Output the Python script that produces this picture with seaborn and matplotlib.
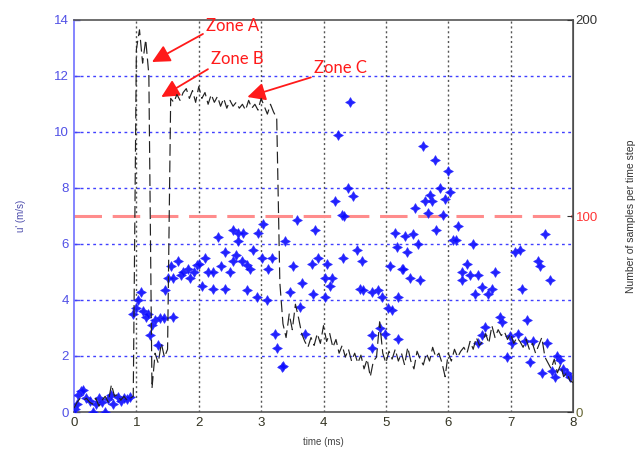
import numpy as np
import matplotlib
matplotlib.use("Agg")
import matplotlib.pyplot as plt
import seaborn as sns

# ---- data ----
# blue markers: u' (m/s) vs time (ms)
pt_time = [0.02,0.05,0.07,0.12,0.15,0.2,0.25,0.3,0.35,0.4,0.45,0.5,0.55,0.6,0.63,0.7,0.75,0.8,0.85,0.9,
           0.95,1.0,1.03,1.07,1.1,1.15,1.19,1.22,1.25,1.3,1.35,1.38,1.45,1.59,1.46,1.51,1.55,1.59,1.67,1.72,
           1.75,1.83,1.86,1.92,1.97,2.0,2.05,2.1,2.15,
           2.23,2.23,2.31,2.35,2.42,2.42,2.5,2.55,2.55,2.6,2.63,2.63,2.69,2.71,2.77,2.77,2.82,2.87,2.93,2.95,
           3.01,3.03,3.09,3.11,3.17,
           3.22,3.25,3.33,3.35,3.38,3.46,3.51,3.57,3.62,3.65,3.70,3.81,3.83,3.86,3.91,4.02,4.02,4.05,4.1,4.13,
           4.18,4.23,4.3,4.31,4.33,4.39,4.42,4.47,4.54,4.58,4.62,4.63,4.78,4.78,4.87,4.94,4.98,5.03,4.9,4.78,
           5.06,5.1,5.18,5.19,5.26,5.27,5.3,5.34,5.38,5.43,5.47,5.51,5.54,5.59,5.63,5.68,5.71,5.74,5.79,5.81,
           5.87,5.92,5.95,6.0,6.03,5.2,5.15,
           6.08,6.12,6.15,6.22,6.22,6.3,6.35,6.39,6.43,6.47,6.47,6.54,6.54,6.59,6.63,6.7,6.75,6.83,6.86,6.94,
           6.99,7.02,
           7.07,7.12,7.15,7.18,7.23,7.26,7.31,7.36,7.44,7.47,7.5,7.55,7.58,7.63,7.66,7.71,7.79,7.84,7.9,7.95,7.75]
pt_u = [0.1,0.3,0.6,0.75,0.8,0.5,0.4,0.0,0.3,0.5,0.35,0.0,0.45,0.6,0.3,0.55,0.4,0.5,0.45,0.55,
        3.5,3.7,4.0,4.3,3.6,3.4,3.5,2.75,3.1,3.3,2.4,3.35,3.35,3.4,4.35,4.8,5.2,4.8,5.4,4.9,
        5.0,5.1,4.8,5.0,5.25,5.3,4.5,5.5,5.0,
        4.4,5.0,6.25,5.2,4.4,5.7,5.0,6.5,5.4,5.6,6.4,6.1,5.4,6.4,5.25,4.35,5.1,5.8,4.1,6.4,
        5.5,6.7,4.0,5.1,5.5,
        2.8,2.3,1.6,1.65,6.1,4.3,5.2,6.85,3.75,4.6,2.8,5.3,4.2,6.5,5.5,4.8,4.1,5.3,4.5,4.8,
        7.55,9.9,7.05,5.5,7.0,8.0,11.07,7.7,5.8,4.4,5.4,4.35,2.75,2.3,4.35,4.1,2.8,3.7,3.0,4.3,
        5.2,3.65,5.9,2.6,5.1,5.1,6.3,5.7,4.8,6.35,7.3,6.0,4.7,9.5,7.55,7.1,7.75,7.55,9.0,6.5,
        8.0,7.05,7.6,8.6,7.85,4.1,6.4,
        6.15,6.15,6.65,5.0,4.7,5.3,4.9,6.0,4.2,4.9,2.45,4.45,2.75,3.05,4.2,4.4,5.0,3.4,3.2,1.95,
        2.7,2.45,
        5.7,2.8,5.8,4.4,2.55,3.3,1.8,2.55,5.4,5.2,1.4,6.35,2.45,4.7,1.45,1.25,1.85,1.55,1.4,1.25,2.0]

# black line: number of samples per time step (one value every 0.05 ms, 0 .. 8 ms)
samples = [2,5,7,6,7,5,4,7,3,6,8,5,14,8,9,6,8,6,7,8,
           185,195,178,190,172,12,30,25,35,28,32,
           160,158,162,159,163,165,160,164,158,166,160,163,157,162,158,161,156,160,155,159,
           156,158,155,157,154,159,155,157,154,160,156,152,157,153,150,
           66,45,38,50,42,55,48,40,36,33,38,34,40,35,44,36,40,33,37,30,34,28,32,26,30,25,29,22,27,18,
           26,28,46,30,25,31,27,32,26,30,24,33,26,22,31,27,24,30,26,33,28,30,25,18,
           30,26,32,28,31,33,30,36,32,38,34,36,40,35,44,38,42,39,41,37,
           40,35,38,36,33,37,32,35,30,34,38,28,25,22,27,20,24,18,20,16,15]
sample_time = np.linspace(0, 8, len(samples))

left_ticks = [0, 2, 4, 6, 8, 10, 12, 14]
right_ticks = [0, 100, 200]
x_ticks = [0, 1, 2, 3, 4, 5, 6, 7, 8]
threshold_u = 7

# ---- figure ----
sns.set_style("white")
plt.rcParams['font.family'] = ['Liberation Sans', 'DejaVu Sans']

fig = plt.figure(figsize=(6.44, 4.65), dpi=100)
ax = fig.add_axes([74/644, 1-412/465, (573-74)/644, (412-20)/465])
ax2 = ax.twinx()

ax.set_xlim(0, 8)
ax.set_ylim(0, 14)
ax2.set_ylim(0, 200)

# grid
for yv in left_ticks[1:-1]:
    ax.axhline(yv, color='#4040ff', lw=1.0, linestyle=(0, (2, 2.5)), zorder=1)
for xv in x_ticks[1:-1]:
    ax.axvline(xv, color='#555555', lw=1.0, linestyle=(0, (1.5, 2)), zorder=1)

# threshold line
ax.axhline(threshold_u, color='#ff8c8c', lw=2.2, linestyle=(0, (9, 3.5)), zorder=2)

# blue markers
sns.scatterplot(x=pt_time, y=pt_u, ax=ax, marker=(4, 1, 0), s=48, color='#0a0aff',
                edgecolor='#2a2aff', linewidth=0.6, alpha=0.9, zorder=3, legend=False)

# black dashed samples line
sns.lineplot(x=sample_time, y=samples, ax=ax2, color='#222222', lw=0.85,
             linestyle=(0, (10, 4)), zorder=4, legend=False)

# ticks and spines
ax.set_xticks(x_ticks)
ax.set_yticks(left_ticks)
ax.tick_params(axis='y', colors='#5555ee', labelsize=9.5, direction='in', length=4, width=1)
ax.tick_params(axis='x', colors='#333333', labelsize=9.5, direction='in', length=4, width=1)
for lab in ax.get_yticklabels():
    lab.set_color('#5050e6')
for lab in ax.get_xticklabels():
    lab.set_color('#333322')
ax2.set_yticks(right_ticks)
ax2.tick_params(axis='y', labelsize=9.5, direction='in', length=4, colors='#333333', pad=2)
rcols = ['#666633', '#ff3333', '#333333']
for lab, c in zip(ax2.get_yticklabels(), rcols):
    lab.set_color(c)

ax.spines['left'].set_color('#6f6fff')
ax.spines['left'].set_linewidth(1.2)
for sp in ['top', 'bottom']:
    ax.spines[sp].set_color('#555555')
    ax.spines[sp].set_linewidth(1.2)
ax2.spines['right'].set_color('#555555')
ax2.spines['right'].set_linewidth(1.2)
ax2.spines['left'].set_visible(False)
ax2.spines['top'].set_visible(False)
ax2.spines['bottom'].set_visible(False)

ax.set_xlabel('time (ms)', fontsize=7, color='#444444', labelpad=6)
ax.set_ylabel("u' (m/s)", fontsize=7, color='#4a4aaa', labelpad=20)
ax2.set_ylabel('Number of samples per time step', fontsize=7.5, color='#333333', labelpad=20)
ax.grid(False)
ax2.grid(False)

# annotations
zone_font = dict(fontsize=12, color='#ff1a1a', family=['Lato', 'DejaVu Sans'])
arrow = dict(arrowstyle='-|>,head_length=0.9,head_width=0.45', color='#ff1a1a', lw=1.3,
             shrinkA=0, shrinkB=0)
ax.annotate('Zone A', xy=(1.25, 12.5), xytext=(2.12, 13.8), va='center', ha='left',
            arrowprops=dict(arrow, relpos=(-0.05, 0.0)), **zone_font, zorder=6)
ax.annotate('Zone B', xy=(1.40, 11.25), xytext=(2.2, 12.6), va='center', ha='left',
            arrowprops=dict(arrow, relpos=(-0.05, -0.1)), **zone_font, zorder=6)
ax.annotate('Zone C', xy=(2.78, 11.25), xytext=(3.85, 12.3), va='center', ha='left',
            arrowprops=dict(arrow, relpos=(-0.05, -0.1)), **zone_font, zorder=6)

fig.savefig('out.png', dpi=100)
